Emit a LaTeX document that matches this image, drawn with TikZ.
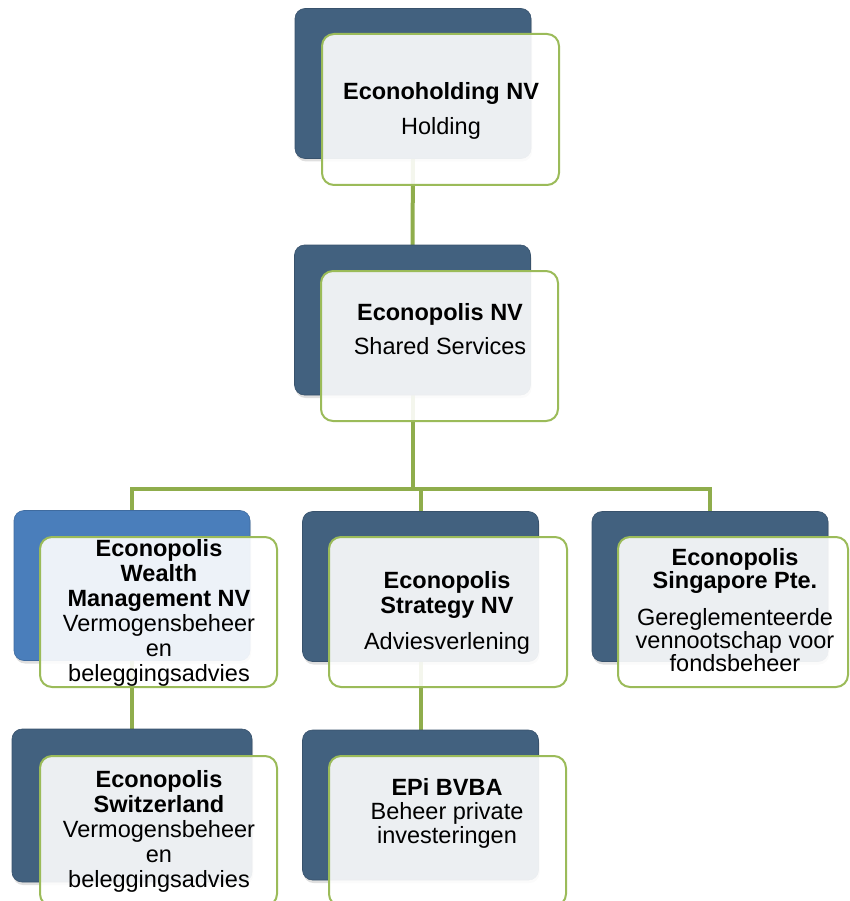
\documentclass[tikz,border=0pt]{standalone}
\usepackage{fontspec}
\setmainfont{Liberation Sans}
\usetikzlibrary{shadows}
\definecolor{darkbox}{HTML}{42617F}
\definecolor{bluebox}{HTML}{4A7EBB}
\definecolor{gborder}{HTML}{9BBB59}
\definecolor{gline}{HTML}{8FAD4C}
\pgfdeclarelayer{bg}
\pgfsetlayers{bg,main}
\tikzset{
  backbox/.style={rounded corners=10pt, fill=darkbox, draw=darkbox!85!black, line width=0.6pt,
    minimum width=236pt, minimum height=150pt, inner sep=0pt, outer sep=0pt,
    drop shadow={opacity=0.25, shadow xshift=1pt, shadow yshift=-3pt}},
  frontbox/.style={rounded corners=12pt, draw=gborder, line width=2pt, fill=white, fill opacity=0.9,
    minimum width=237pt, minimum height=150pt, inner sep=0pt, outer sep=0pt},
  txt/.style={align=center, font=\fontsize{23.5}{25}\selectfont, inner sep=0pt, text=black},
  conn/.style={draw=gline, line width=4pt}
}
\begin{document}
\begin{tikzpicture}[x=1pt, y=-1pt]
\useasboundingbox (0,0) rectangle (849,901);
% back boxes
\node[backbox] (d1) at (413,83.5) {};
\node[backbox] (d2) at (412.5,320) {};
\node[backbox, fill=bluebox, draw=bluebox!85!black] (d3a) at (132,585.5) {};
\node[backbox] (d3b) at (420.5,586.5) {};
\node[backbox] (d3c) at (710,586.5) {};
\node[backbox, minimum width=240pt, minimum height=153pt] (d4a) at (132,805.5) {};
\node[backbox] (d4b) at (420.5,805) {};
% connectors (behind)
\coordinate (bus) at (412.5,489);
\begin{pgfonlayer}{bg}
\draw[conn] (d1.south) -- (d2.north);
\draw[conn] (d2.south) -- (bus);
\draw[conn] (d3a.north) |- (bus) -| (d3c.north);
\draw[conn] (bus -| d3b.north) -- (d3b.north);
\draw[conn] (d3a.south) -- (d4a.north);
\draw[conn] (d3b.south) -- (d4b.north);
\end{pgfonlayer}
% front boxes
\node[frontbox, minimum height=151pt] (g1) at (440.5,109.5) {};
\node[frontbox] (g2) at (439.5,346) {};
\node[frontbox] (g3a) at (158.5,612) {};
\node[frontbox, minimum width=238pt] (g3b) at (448,612) {};
\node[frontbox, minimum width=230pt] (g3c) at (733,612) {};
\node[frontbox] (g4a) at (158.5,831) {};
\node[frontbox] (g4b) at (447.5,831) {};
% texts
\node[txt] (t1) at (441,110.5) {\textbf{Econoholding NV}\\[10pt]Holding};
\node[txt] (t2) at (440,329) {\textbf{Econopolis NV}\\[9pt]Shared Services};
\node[txt] (t3a) at (159,612.5) {\textbf{Econopolis}\\\textbf{Wealth}\\\textbf{Management NV}\\Vermogensbeheer\\en\\beleggingsadvies};
\node[txt] (t3b) at (447,612.5) {\textbf{Econopolis}\\\textbf{Strategy NV}\\[11pt]Adviesverlening};
\node[txt, font=\fontsize{23.5}{23}\selectfont] (t3c) at (735,610) {\textbf{Econopolis}\\\textbf{Singapore Pte.}\\[14pt]Gereglementeerde\\vennootschap voor\\fondsbeheer};
\node[txt] (t4a) at (159,831.5) {\textbf{Econopolis}\\\textbf{Switzerland}\\Vermogensbeheer\\en\\beleggingsadvies};
\node[txt, font=\fontsize{23.5}{24}\selectfont] (t4b) at (447,813) {\textbf{EPi BVBA}\\Beheer private\\investeringen};
\end{tikzpicture}
\end{document}
